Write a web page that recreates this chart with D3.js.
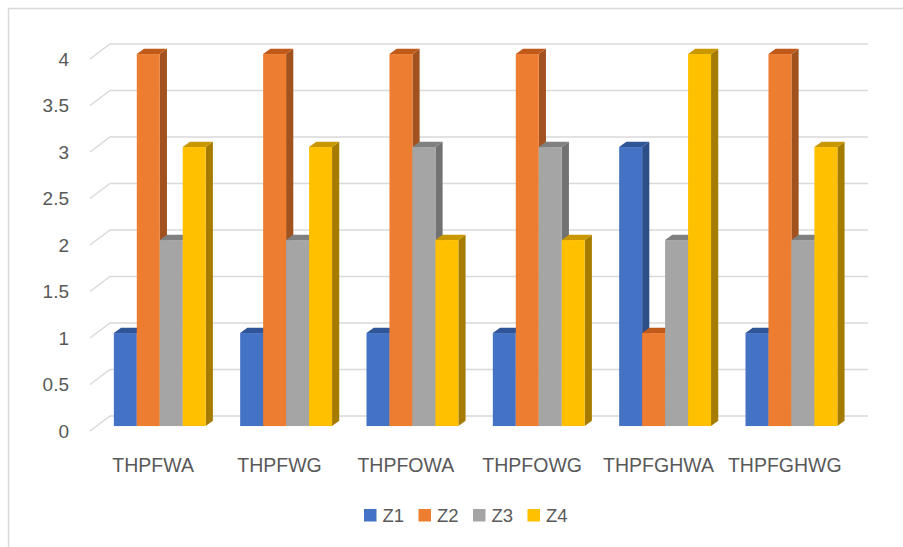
<!DOCTYPE html>
<html><head><meta charset="utf-8">
<script src="https://cdn.jsdelivr.net/npm/d3@7"></script>
<style>body{margin:0;background:#fff}svg{display:block}text{font-family:"Liberation Sans",Arial,sans-serif;fill:#595959}</style>
</head><body><svg id="c" width="903" height="547"></svg>
<script>
const categories = ["THPFWA","THPFWG","THPFOWA","THPFOWG","THPFGHWA","THPFGHWG"];
const seriesNames = ["Z1","Z2","Z3","Z4"];
const Z1 = [1,1,1,1,3,1];
const Z2 = [4,4,4,4,1,4];
const Z3 = [2,2,3,3,2,2];
const Z4 = [3,3,2,2,4,3];
const seriesValues = [Z1,Z2,Z3,Z4];
const yTicks = [0,0.5,1,1.5,2,2.5,3,3.5,4];
const yTickLabels = ["0","0.5","1","1.5","2","2.5","3","3.5","4"];
const colors = [
  {front:"#4472C4", top:"#2F5597", side:"#2E4E8A"},
  {front:"#ED7D31", top:"#C05A1B", side:"#A2521E"},
  {front:"#A5A5A5", top:"#808080", side:"#727272"},
  {front:"#FFC000", top:"#C99700", side:"#A67C00"}
];

const svg = d3.select("#c");
// chart border
svg.append("rect").attr("x",8.5).attr("y",8.5).attr("width",1000).attr("height",1000)
  .attr("fill","none").attr("stroke","#D9D9D9").attr("stroke-width",1.5);

const depth = {dx:20, dy:-15};
const barD0 = 0.33, barD1 = 0.69;
const x = d3.scaleBand().domain(categories).range([90,848]).paddingInner(0).paddingOuter(0);
const xs = d3.scaleBand().domain(seriesNames).range([0,x.bandwidth()]).paddingInner(0).paddingOuter(0.75);
const y = d3.scaleLinear().domain([0,4]).range([431,59]);
const P = (px,py,d)=>[px+depth.dx*d, py+depth.dy*d];

// gridlines: side wall slant + back wall
const grid = svg.append("g");
yTicks.forEach(t=>{
  const f = [90,y(t)], b = P(90,y(t),1), e = P(848,y(t),1);
  grid.append("polyline").attr("points",[f,b,e].map(p=>p.join(",")).join(" "))
    .attr("fill","none").attr("stroke","#D9D9D9").attr("stroke-width",1.5);
});
// y labels
svg.append("g").selectAll("text").data(yTicks).join("text")
  .attr("x",69).attr("y",d=>y(d)).attr("dy","0.35em").attr("text-anchor","end")
  .attr("font-size",19).text((d,i)=>yTickLabels[i]);

// bars
const bars = svg.append("g");
categories.forEach((c,ci)=>{
  seriesNames.forEach((s,si)=>{
    const v = seriesValues[si][ci];
    const x0 = x(c)+xs(s), x1 = x0+xs.bandwidth();
    const yb = y(0), yt = y(v);
    const col = colors[si];
    const pts = a=>a.map(p=>p.join(",")).join(" ");
    // side
    bars.append("polygon").attr("fill",col.side).attr("points",pts([
      P(x1,yb,barD0),P(x1,yb,barD1),P(x1,yt,barD1),P(x1,yt,barD0)]));
    // top
    bars.append("polygon").attr("fill",col.top).attr("points",pts([
      P(x0,yt,barD0),P(x0,yt,barD1),P(x1,yt,barD1),P(x1,yt,barD0)]));
    // front
    const fp = P(x0,yt,barD0), fb = P(x1,yb,barD0);
    bars.append("rect").attr("fill",col.front).attr("x",fp[0]).attr("y",fp[1])
      .attr("width",fb[0]-fp[0]).attr("height",fb[1]-fp[1]);
  });
});

// x labels
svg.append("g").selectAll("text").data(categories).join("text")
  .attr("x",d=>x(d)+x.bandwidth()/2).attr("y",465).attr("dy","0.35em")
  .attr("text-anchor","middle").attr("font-size",19.5).text(d=>d);

// legend
const lg = svg.append("g");
const lx = d3.scalePoint().domain(seriesNames).range([364,527.5]);
seriesNames.forEach((s,i)=>{
  lg.append("rect").attr("x",lx(s)).attr("y",509).attr("width",12.5).attr("height",12.5).attr("fill",colors[i].front);
  lg.append("text").attr("x",lx(s)+18.5).attr("y",515.5).attr("dy","0.35em").attr("font-size",18.5).text(s);
});
</script></body></html>
